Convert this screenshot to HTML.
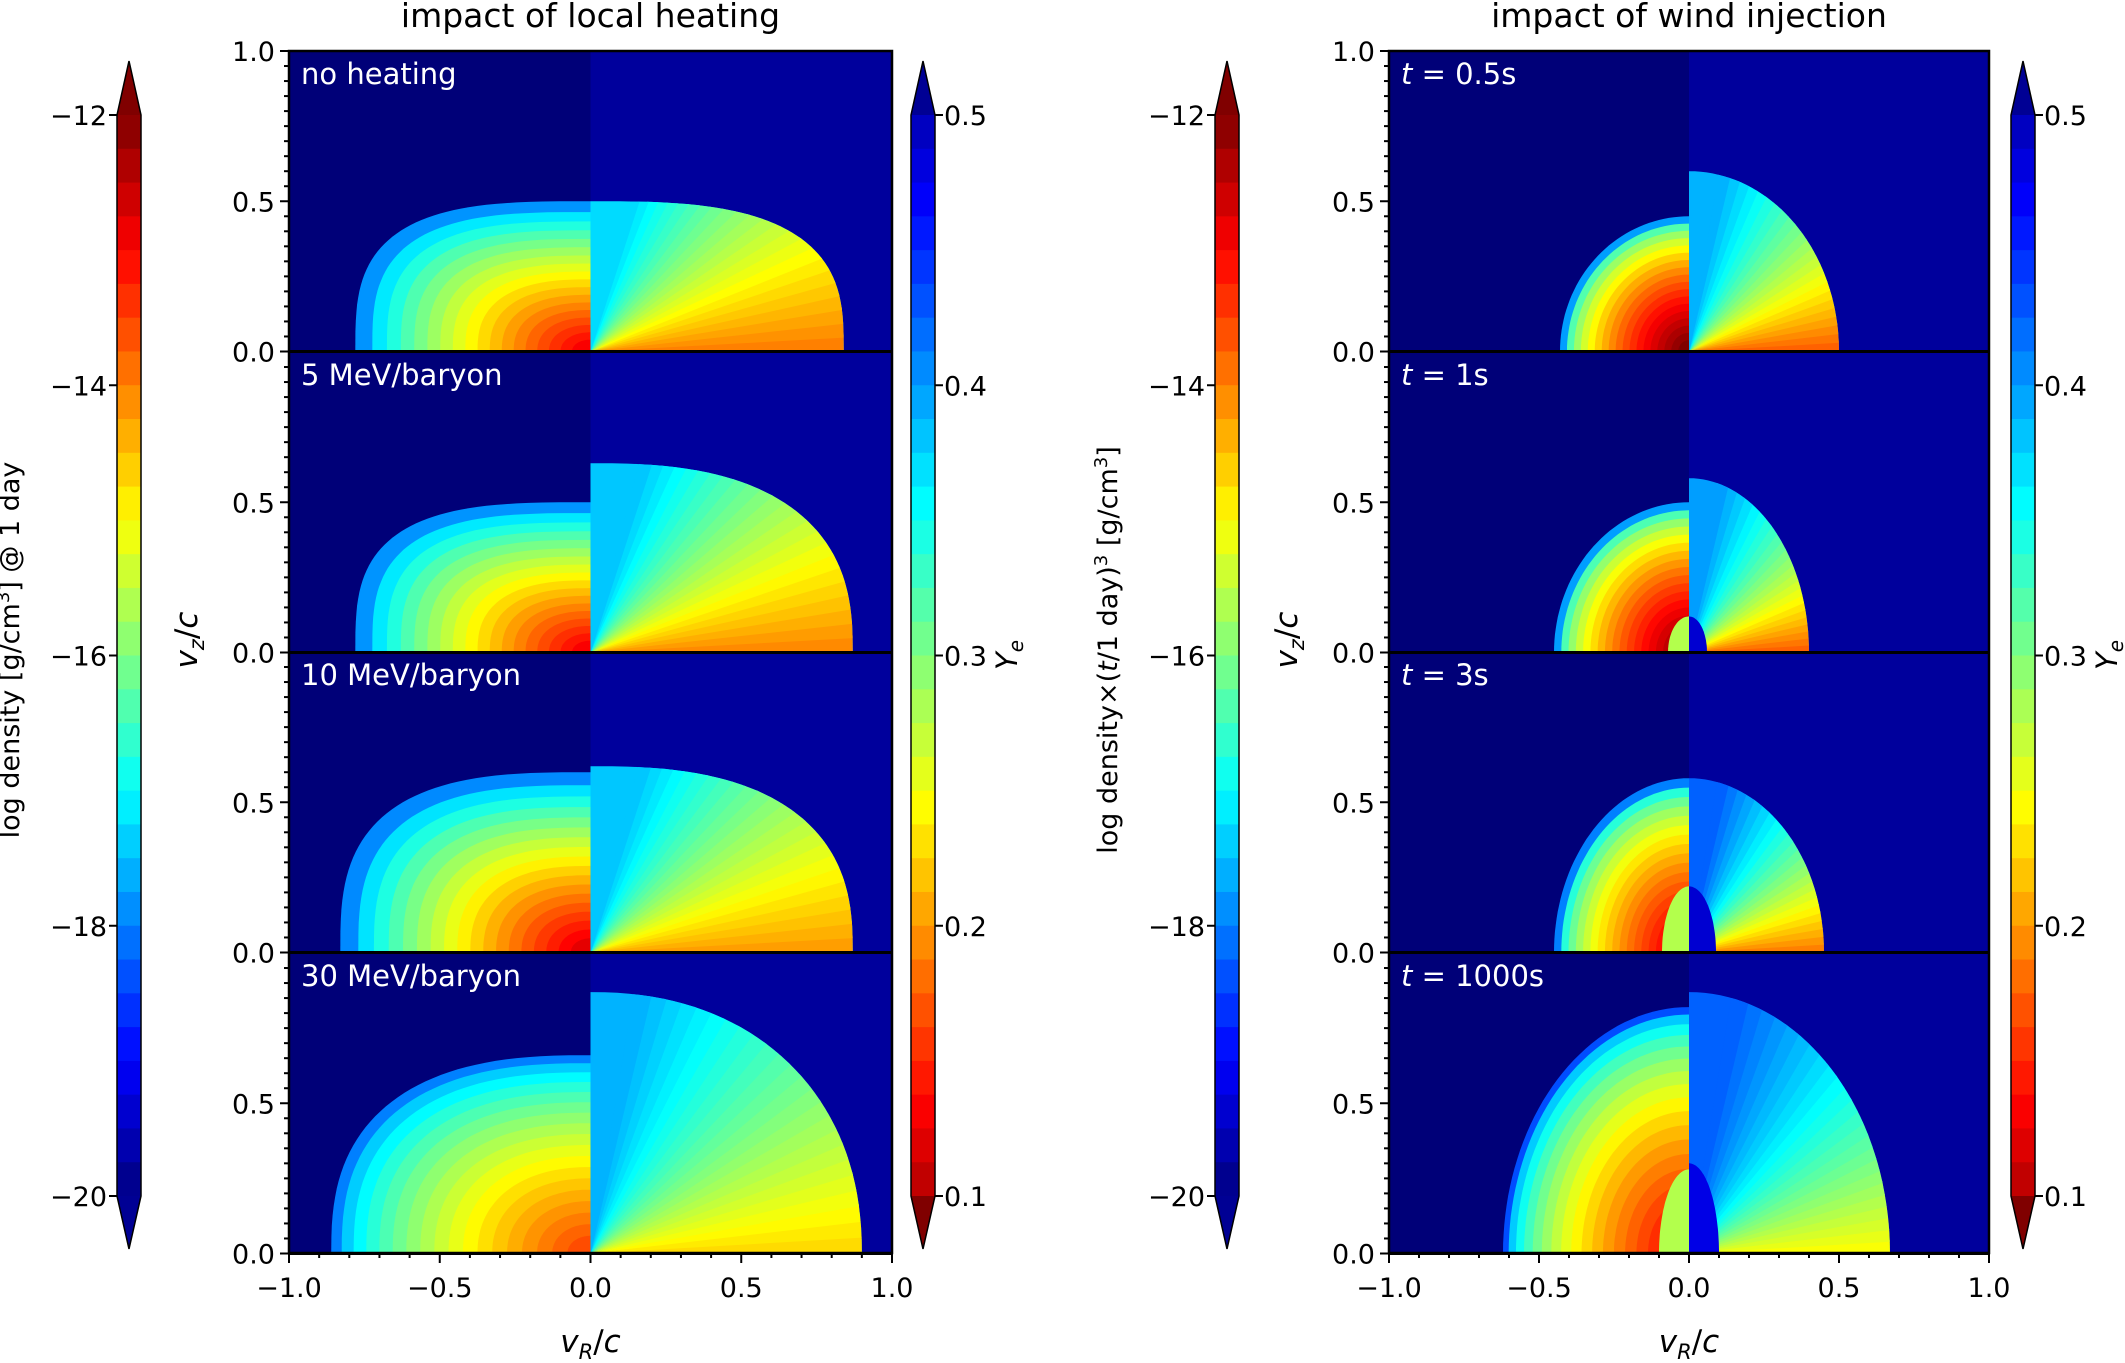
<!DOCTYPE html>
<html><head><meta charset="utf-8"><style>
html,body{margin:0;padding:0;background:#fff;}
svg{display:block;font-family:"DejaVu Sans","Liberation Sans",sans-serif;}
</style></head><body>
<svg id="s" width="2125" height="1363" xmlns="http://www.w3.org/2000/svg"></svg>
<script>
var S=document.getElementById('s'),out=[];
function cl(v){return Math.max(0,Math.min(1,v));}
function jet(x){var r=cl(1.5-Math.abs(4*x-3)),g=cl(1.5-Math.abs(4*x-2)),b=cl(1.5-Math.abs(4*x-1));
return 'rgb('+Math.round(r*255)+','+Math.round(g*255)+','+Math.round(b*255)+')';}
var tops=[51,352,652,953],BOT=1253,H=300.5;
function supPath(X,Y,rx,ry,n,side){
  var p=[],N=40;
  p.push([X(0),Y(0)]);
  for(var i=0;i<=N;i++){var a=i/N*Math.PI/2;var c=Math.pow(Math.cos(a),2/n),s=Math.pow(Math.sin(a),2/n);
    p.push([X(side*rx*c),Y(ry*s)]);}
  return 'M'+p.map(function(q){return q[0].toFixed(1)+','+q[1].toFixed(1)}).join('L')+'Z';
}
var cid=0;
function panel(x0,x1,top,d,y,label){
  var W=x1-x0,bot=top+H;
  var X=function(v){return x0+(v+1)/2*W},Y=function(v){return bot-v*H};
  var xm=X(0);
  cid++;
  out.push('<clipPath id="pc'+cid+'"><rect x="'+x0+'" y="'+top+'" width="'+W+'" height="'+H+'"/></clipPath>');
  out.push('<g clip-path="url(#pc'+cid+')">');
  out.push('<rect x="'+x0+'" y="'+top+'" width="'+(xm-x0)+'" height="'+H+'" fill="#000078"/>');
  out.push('<rect x="'+xm+'" y="'+top+'" width="'+(x1-xm)+'" height="'+H+'" fill="#00009c"/>');
  var M=18;
  for(var i=0;i<M;i++){var t=i/M;var s=1-Math.pow(t,d.pw||1)*0.97;
    var v=d.vo+(d.vi-d.vo)*Math.pow(i/(M-1),d.g||0.7);
    var n=d.n+(2-d.n)*t;
    out.push('<path d="'+supPath(X,Y,d.rx*s,d.ry*s,n,-1)+'" fill="'+jet(v)+'"/>');}
  if(d.blob){var b=d.blob;out.push('<path d="'+supPath(X,Y,b[0],b[1],2,-1)+'" fill="'+jet(b[2])+'"/>');}
  cid++;
  var sp=supPath(X,Y,y.rx,y.ry,y.n,1);
  out.push('<clipPath id="pc'+cid+'"><path d="'+sp+'"/></clipPath>');
  out.push('<path d="'+sp+'" fill="'+jet(y.top)+'"/>');
  out.push('<g clip-path="url(#pc'+cid+')">');
  var R=W;
  for(var k=0;k<24;k++){var a0=k*y.tm/24,a1=(k+1)*y.tm/24;
    var v=y.eq-(y.eq-y.top)*Math.pow(k/23,y.g||1);
    var A=a0*Math.PI/180,B=(a1+0.6)*Math.PI/180;
    out.push('<path d="M'+xm+','+bot+'L'+(xm+R*Math.cos(A))+','+(bot-R*Math.sin(A))+'L'+(xm+R*Math.cos(B))+','+(bot-R*Math.sin(B))+'Z" fill="'+jet(v)+'"/>');}
  if(y.blob){var b=y.blob;out.push('<path d="'+supPath(X,Y,b[0],b[1],2,1)+'" fill="'+jet(b[2])+'"/>');}
  out.push('</g></g>');
  out.push('<text x="'+(x0+12)+'" y="'+(top+33)+'" font-size="29" fill="#fff">'+label+'</text>');
  for(var j=0;j<=20;j++){var yy=bot-j*H/20;if(j==20&&top!=51)continue;var L=(j%10==0)?9:5;
    out.push('<line x1="'+(x0-L)+'" y1="'+yy+'" x2="'+x0+'" y2="'+yy+'" stroke="#000" stroke-width="2"/>');}
  out.push('<text x="'+(x0-14)+'" y="'+(bot+10)+'" font-size="27" text-anchor="end">0.0</text>');
  out.push('<text x="'+(x0-14)+'" y="'+(bot-H/2+10)+'" font-size="27" text-anchor="end">0.5</text>');
  if(top==51)out.push('<text x="'+(x0-14)+'" y="'+(top+10)+'" font-size="27" text-anchor="end">1.0</text>');
}
function cbar(x,w,type,labelSide){
  var t=115,b=1196,tip1=61,tip2=1249,N=32,h=(b-t)/N;
  for(var i=0;i<N;i++){var v=(type=='d')?(1-(i+0.5)/N):((i+0.5)/N*0.9+0.05);
    out.push('<rect x="'+x+'" y="'+(t+i*h)+'" width="'+w+'" height="'+(h+0.8)+'" fill="'+jet(v)+'"/>');}
  var ct=(type=='d')?jet(1):jet(0.02),cb=(type=='d')?jet(0.02):jet(1);
  out.push('<path d="M'+x+','+t+'L'+(x+w/2)+','+tip1+'L'+(x+w)+','+t+'Z" fill="'+ct+'"/>');
  out.push('<path d="M'+x+','+b+'L'+(x+w/2)+','+tip2+'L'+(x+w)+','+b+'Z" fill="'+cb+'"/>');
  out.push('<path d="M'+x+','+t+'L'+(x+w/2)+','+tip1+'L'+(x+w)+','+t+'L'+(x+w)+','+b+'L'+(x+w/2)+','+tip2+'L'+x+','+b+'Z" fill="none" stroke="#000" stroke-width="1.5"/>');
  var labs=(type=='d')?['\u221212','\u221214','\u221216','\u221218','\u221220']:['0.5','0.4','0.3','0.2','0.1'];
  for(var k=0;k<5;k++){var yy=t+k*(b-t)/4;
    if(labelSide<0){out.push('<line x1="'+(x-8)+'" y1="'+yy+'" x2="'+x+'" y2="'+yy+'" stroke="#000" stroke-width="2"/>');
      out.push('<text x="'+(x-10)+'" y="'+(yy+10)+'" font-size="27" text-anchor="end">'+labs[k]+'</text>');}
    else{out.push('<line x1="'+(x+w)+'" y1="'+yy+'" x2="'+(x+w+8)+'" y2="'+yy+'" stroke="#000" stroke-width="2"/>');
      out.push('<text x="'+(x+w+9)+'" y="'+(yy+10)+'" font-size="27">'+labs[k]+'</text>');}}
}
function group(x0,x1,dens,ye,labels,title,cbx,ycx,dlabel){
  for(var i=0;i<4;i++)panel(x0,x1,tops[i],dens[i],ye[i],labels[i]);
  for(var i=0;i<4;i++){var bb=tops[i]+H;out.push('<line x1="'+x0+'" y1="'+bb+'" x2="'+x1+'" y2="'+bb+'" stroke="#000" stroke-width="3"/>');}
  out.push('<rect x="'+x0+'" y="'+tops[0]+'" width="'+(x1-x0)+'" height="'+(BOT-tops[0])+'" fill="none" stroke="#000" stroke-width="2.5"/>');
  var W=x1-x0;
  for(var j=0;j<=20;j++){var xx=x0+j*W/20,L=(j%5==0)?10:5;
    out.push('<line x1="'+xx+'" y1="'+BOT+'" x2="'+xx+'" y2="'+(BOT+L)+'" stroke="#000" stroke-width="2"/>');}
  var xl=['\u22121.0','\u22120.5','0.0','0.5','1.0'];
  for(var k=0;k<5;k++)out.push('<text x="'+(x0+k*W/4)+'" y="'+1297+'" font-size="27" text-anchor="middle">'+xl[k]+'</text>');
  out.push('<text x="'+(x0+W/2)+'" y="1352" font-size="31" text-anchor="middle"><tspan font-style="italic">v</tspan><tspan font-size="21" font-style="italic" dy="7">R</tspan><tspan dy="-7">/</tspan><tspan font-style="italic">c</tspan></text>');
  out.push('<text x="'+(x0+W/2)+'" y="27" font-size="33" text-anchor="middle">'+title+'</text>');
  out.push('<text transform="translate('+(x0-92)+',640) rotate(-90)" font-size="31" text-anchor="middle"><tspan font-style="italic">v</tspan><tspan font-size="21" font-style="italic" dy="7">z</tspan><tspan dy="-7">/</tspan><tspan font-style="italic">c</tspan></text>');
  cbar(cbx,24,'d',-1);cbar(ycx,24,'y',1);
  out.push('<text transform="translate('+(ycx+106)+',655) rotate(-90)" font-size="29" text-anchor="middle"><tspan font-style="italic">Y</tspan><tspan font-size="20" font-style="italic" dy="6">e</tspan></text>');
  out.push('<text transform="translate('+(cbx-98)+',650) rotate(-90)" font-size="27" text-anchor="middle">'+dlabel+'</text>');
}
var hd=[{rx:0.78,ry:0.5,n:3.2,vo:0.27,vi:0.88,pw:0.9},{rx:0.78,ry:0.5,n:3.2,vo:0.27,vi:0.88,pw:0.9},
{rx:0.83,ry:0.6,n:3,vo:0.26,vi:0.9,pw:0.9},{rx:0.86,ry:0.66,n:2.6,vo:0.25,vi:0.8,pw:1.1}];
var hy=[{rx:0.84,ry:0.5,n:3,eq:0.75,top:0.34,tm:75},{rx:0.87,ry:0.63,n:2.6,eq:0.74,top:0.32,tm:75},
{rx:0.87,ry:0.62,n:2.6,eq:0.72,top:0.32,tm:75},{rx:0.9,ry:0.87,n:2.2,eq:0.66,top:0.3,tm:80}];
var wd=[{rx:0.43,ry:0.45,n:2,vo:0.28,vi:1.0,pw:1,g:0.5},{rx:0.45,ry:0.5,n:2,vo:0.28,vi:0.98,pw:1,g:0.5,blob:[0.07,0.12,0.55]},
{rx:0.45,ry:0.58,n:2,vo:0.25,vi:0.92,pw:1,g:0.5,blob:[0.09,0.22,0.55]},{rx:0.62,ry:0.82,n:2,vo:0.2,vi:0.88,pw:1.2,g:0.6,blob:[0.1,0.28,0.55]}];
var wy=[{rx:0.5,ry:0.6,n:2,eq:0.78,top:0.3,tm:80},{rx:0.4,ry:0.58,n:2,eq:0.78,top:0.28,tm:80,blob:[0.06,0.12,0.08]},
{rx:0.45,ry:0.58,n:2,eq:0.75,top:0.22,tm:80,blob:[0.09,0.22,0.08]},{rx:0.67,ry:0.87,n:2,eq:0.62,top:0.22,tm:80,blob:[0.1,0.3,0.1]}];
group(289,892,hd,hy,['no heating','5 MeV/baryon','10 MeV/baryon','30 MeV/baryon'],'impact of local heating',117,911,'log density [g/cm<tspan font-size="18" dy="-10">3</tspan><tspan dy="10">] @ 1 day</tspan>');
group(1389,1989,wd,wy,['<tspan font-style="italic">t</tspan> = 0.5s','<tspan font-style="italic">t</tspan> = 1s','<tspan font-style="italic">t</tspan> = 3s','<tspan font-style="italic">t</tspan> = 1000s'],'impact of wind injection',1215,2011,'log density\u00d7(<tspan font-style="italic">t</tspan>/1 day)<tspan font-size="18" dy="-10">3</tspan><tspan dy="10"> [g/cm</tspan><tspan font-size="18" dy="-10">3</tspan><tspan dy="10">]</tspan>');
S.innerHTML=out.join('');
</script>
</body></html>
